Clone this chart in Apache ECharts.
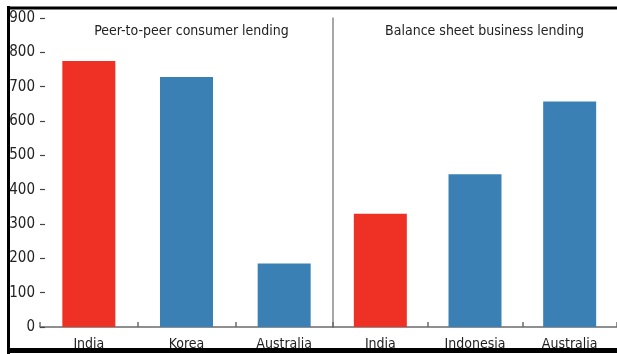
<!DOCTYPE html>
<html><head><meta charset="utf-8">
<script src="https://cdn.jsdelivr.net/npm/echarts@6/dist/echarts.min.js"></script>
<style>html,body{margin:0;padding:0;background:#fff}#c{width:617px;height:354px}</style>
</head><body><div id="c"></div>
<script>
const panelTitles = ['Peer-to-peer consumer lending', 'Balance sheet business lending'];
const leftCategories = ['India', 'Korea', 'Australia'];
const leftValues = [775, 728, 185];
const leftColors = ['#EE3124', '#3A80B5', '#3A80B5'];
const rightCategories = ['India', 'Indonesia', 'Australia'];
const rightValues = [330, 445, 657];
const rightColors = ['#EE3124', '#3A80B5', '#3A80B5'];
const yMax = 900, yInterval = 100;

const FONT = '"DejaVu Sans Condensed","Liberation Sans Narrow","Liberation Sans",sans-serif';
const txt = '#222';
const chart = echarts.init(document.getElementById('c'));
const gridTop = 18, gridH = 309, gridW = 293;
function xAx(i, cats) {
  return {
    type: 'category', gridIndex: i, data: cats,
    axisLine: { show: true, lineStyle: { color: '#6b6b6b', width: 1.5 } },
    axisTick: { show: true, inside: true, length: 5, lineStyle: { color: '#6b6b6b', width: 1.5 } },
    axisLabel: { color: txt, fontFamily: FONT, fontSize: 14, margin: 10 }
  };
}
function yAx(i, showLabels) {
  return {
    type: 'value', gridIndex: i, min: 0, max: yMax, interval: yInterval,
    splitLine: { show: false },
    axisLine: showLabels ? { show: false } : { show: true, lineStyle: { color: '#8a8a8a', width: 1.5 } },
    axisTick: showLabels ? { show: true, inside: true, length: 5, lineStyle: { color: '#444', width: 1.2 } } : { show: false },
    axisLabel: { show: showLabels, color: txt, fontFamily: FONT, fontSize: 15, margin: 5 }
  };
}
function barData(vals, cols) {
  return vals.map((v, i) => ({ value: v, itemStyle: { color: cols[i] } }));
}
chart.setOption({
  animation: false,
  backgroundColor: '#fff',
  title: [
    { text: panelTitles[0], left: 40 + gridW / 2, top: 19, textAlign: 'center',
      textStyle: { color: txt, fontFamily: FONT, fontSize: 14, fontWeight: 'normal' } },
    { text: panelTitles[1], left: 333 + gridW / 2, top: 19, textAlign: 'center',
      textStyle: { color: txt, fontFamily: FONT, fontSize: 14, fontWeight: 'normal' } }
  ],
  grid: [
    { left: 40, top: gridTop, width: gridW, height: gridH },
    { left: 333, top: gridTop, width: gridW, height: gridH }
  ],
  xAxis: [xAx(0, leftCategories), xAx(1, rightCategories)],
  yAxis: [yAx(0, true), yAx(1, false)],
  series: [
    { type: 'bar', xAxisIndex: 0, yAxisIndex: 0, barWidth: 53, data: barData(leftValues, leftColors) },
    { type: 'bar', xAxisIndex: 1, yAxisIndex: 1, barWidth: 53, data: barData(rightValues, rightColors) }
  ],
  graphic: [
    { type: 'line', shape: { x1: 8.5, y1: 6, x2: 8.5, y2: 354 }, z: 100, style: { stroke: '#000', lineWidth: 3 } },
    { type: 'line', shape: { x1: 7, y1: 8, x2: 617, y2: 8 }, z: 100, style: { stroke: '#000', lineWidth: 3 } },
    { type: 'line', shape: { x1: 7, y1: 350.5, x2: 617, y2: 350.5 }, z: 100, style: { stroke: '#000', lineWidth: 5 } }
  ]
});
</script></body></html>
